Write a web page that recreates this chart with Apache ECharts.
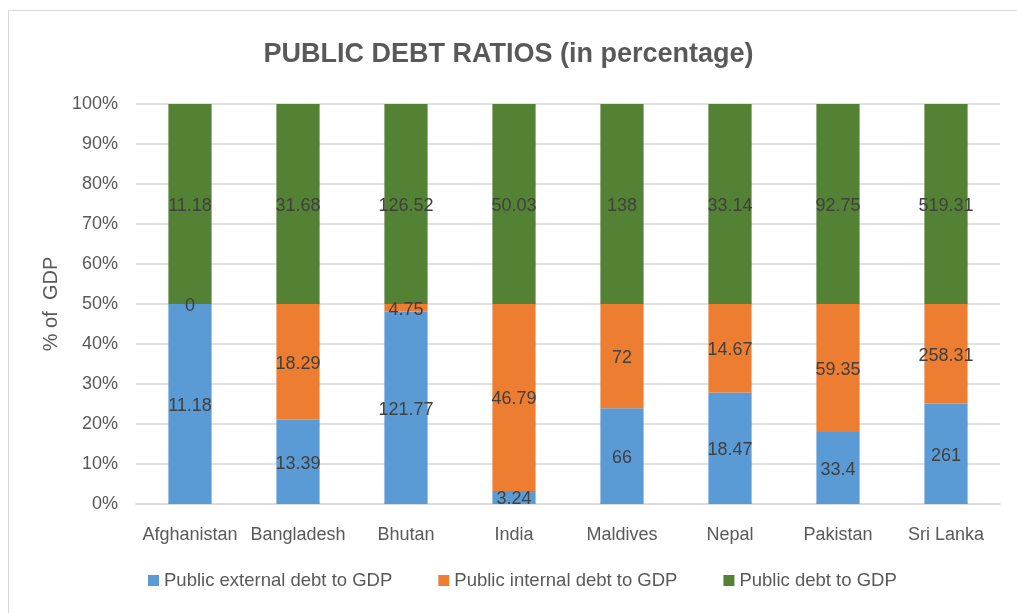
<!DOCTYPE html>
<html>
<head>
<meta charset="utf-8">
<script src="https://cdn.jsdelivr.net/npm/echarts@6/dist/echarts.min.js"></script>
<style>
  html, body { margin: 0; padding: 0; background: #fff; }
  #frame { position: absolute; left: 8px; top: 10px; width: 1020px; height: 620px; border: 1px solid #d9d9d9; box-sizing: border-box; }
  #chart { position: absolute; left: 0; top: 0; width: 1017px; height: 613px; }
</style>
</head>
<body>
<div id="frame"></div>
<div id="chart"></div>
<script>
// data
const countries = ['Afghanistan', 'Bangladesh', 'Bhutan', 'India', 'Maldives', 'Nepal', 'Pakistan', 'Sri Lanka'];
const externalDebt = [11.18, 13.39, 121.77, 3.24, 66, 18.47, 33.4, 261];
const internalDebt = [0, 18.29, 4.75, 46.79, 72, 14.67, 59.35, 258.31];
const totalDebt = [11.18, 31.68, 126.52, 50.03, 138, 33.14, 92.75, 519.31];
const seriesNames = ['Public external debt to GDP', 'Public internal debt to GDP', 'Public debt to GDP'];
const colors = ['#5b9bd5', '#ed7d31', '#548235'];

const font = "'Liberation Sans', Arial, sans-serif";
const raw = [externalDebt, internalDebt, totalDebt];
const sums = countries.map((c, i) => externalDebt[i] + internalDebt[i] + totalDebt[i]);

let chart = echarts.init(document.getElementById('chart'), null, { renderer: 'canvas' });

const series = raw.map((arr, k) => ({
    name: seriesNames[k],
    type: 'bar',
    stack: 'all',
    barWidth: '40%',
    itemStyle: { color: colors[k] },
    label: {
        show: true,
        position: 'inside',
        color: '#404040',
        fontSize: 18,
        fontFamily: font,
        offset: [0, 2],
        formatter: (p) => String(arr[p.dataIndex])
    },
    data: arr.map((v, i) => v / sums[i] * 100)
}));

chart.setOption({
    animation: false,
    title: {
        text: 'PUBLIC DEBT RATIOS (in percentage)',
        left: 'center',
        top: 36,
        textStyle: { fontFamily: font, fontSize: 27, fontWeight: 'bold', color: '#595959' }
    },
    legend: {
        bottom: 18,
        left: 143,
        itemWidth: 11,
        itemHeight: 11,
        itemGap: 46,
        icon: 'rect',
        textStyle: { fontFamily: font, fontSize: 18.5, color: '#595959' },
        data: seriesNames
    },
    grid: { left: 136, right: 17, top: 104, bottom: 109 },
    xAxis: {
        type: 'category',
        data: countries,
        axisTick: { show: false },
        axisLine: { lineStyle: { color: '#d9d9d9', width: 1.5 } },
        axisLabel: { interval: 0, fontFamily: font, fontSize: 18, color: '#595959', margin: 22 }
    },
    yAxis: {
        type: 'value',
        min: 0,
        max: 100,
        interval: 10,
        name: '% of  GDP',
        nameLocation: 'middle',
        nameGap: 74,
        nameTextStyle: { fontFamily: font, fontSize: 20, color: '#595959' },
        axisLabel: { formatter: '{value}%', fontFamily: font, fontSize: 18, color: '#595959', margin: 18 },
        splitLine: { lineStyle: { color: '#d9d9d9', width: 1.5 } }
    },
    series: series
});
</script>
</body>
</html>
